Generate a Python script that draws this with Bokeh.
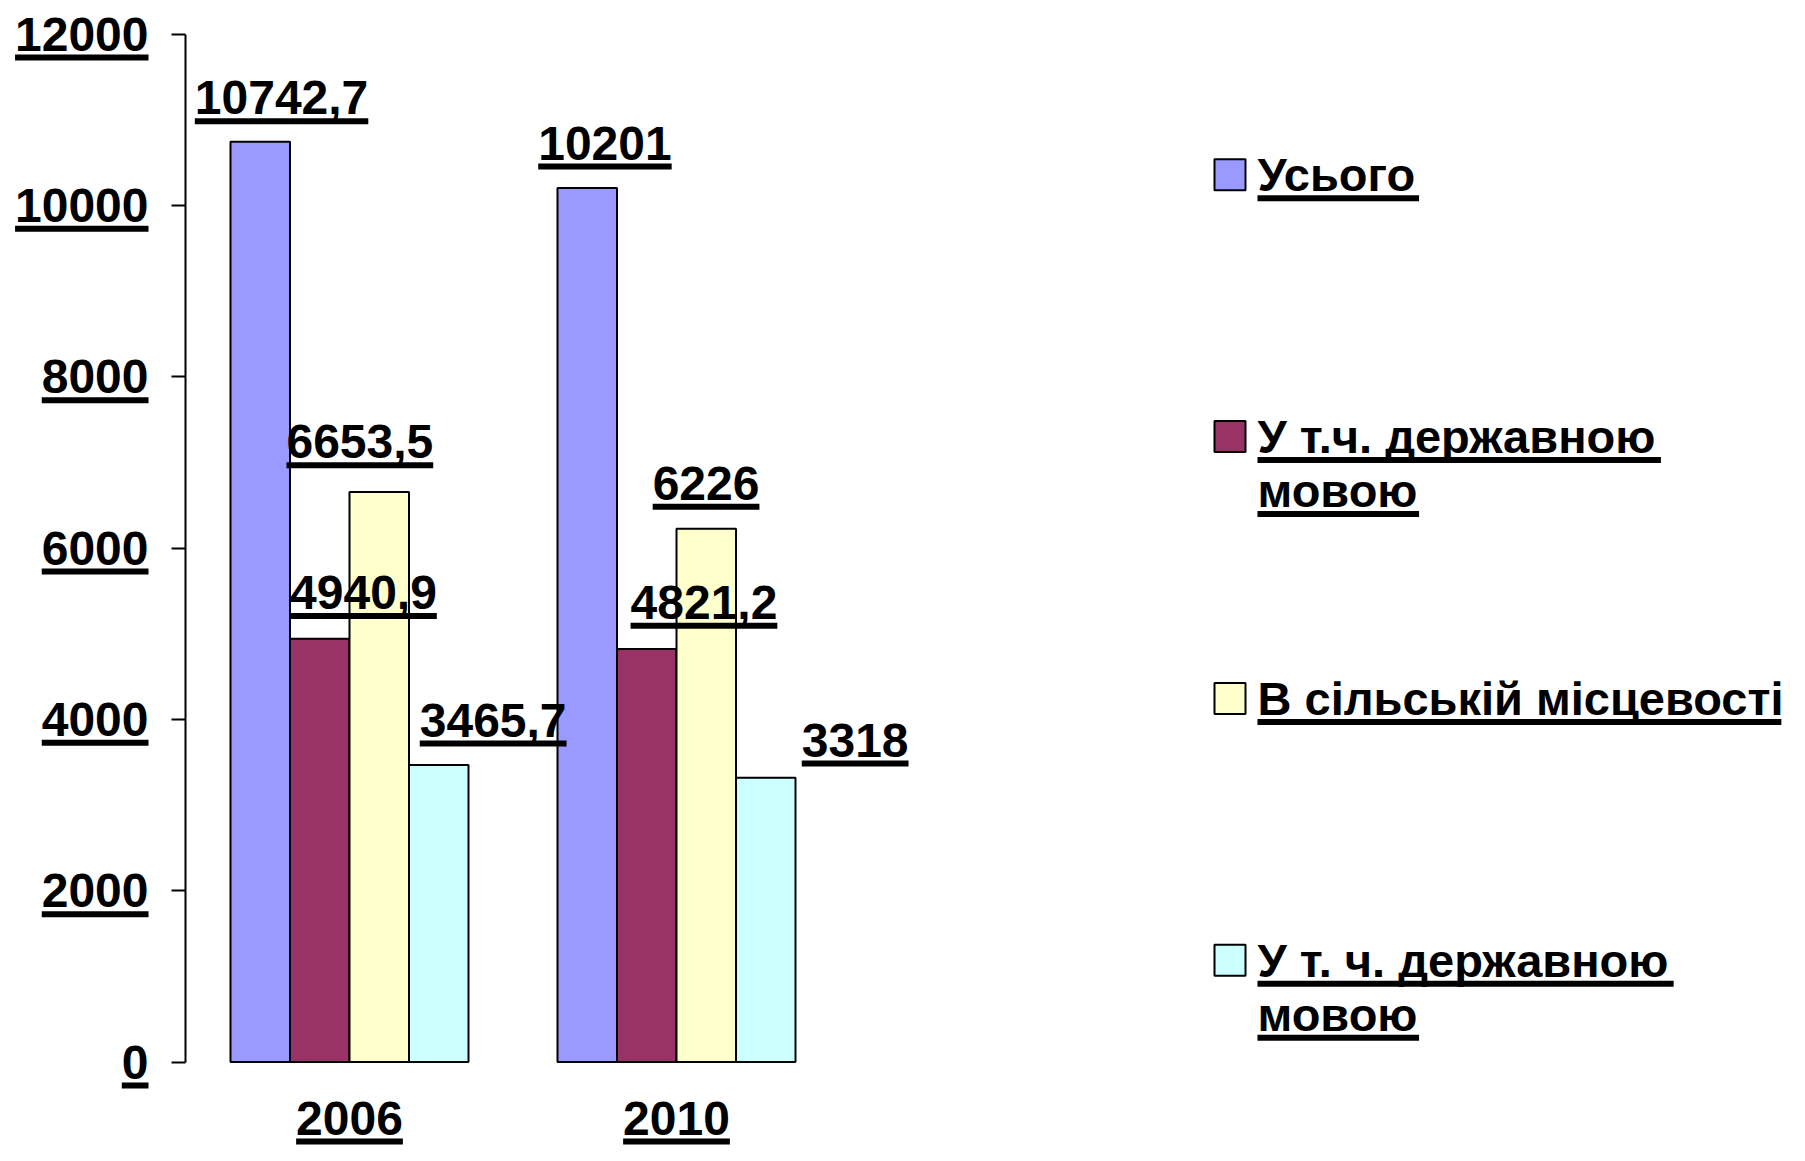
from bokeh.plotting import figure
from bokeh.models import Range1d, LinearAxis, FixedTicker, ColumnDataSource
from bokeh.core.properties import value
from bokeh.embed import file_html
from bokeh.resources import INLINE

# ---------------- data ----------------
years = ["2006", "2010"]
series_names = ["Усього", "У т.ч. державною\nмовою", "В сільській місцевості", "У т. ч. державною\nмовою"]
values_2006 = [10742.7, 4940.9, 6653.5, 3465.7]
values_2010 = [10201, 4821.2, 6226, 3318]
y_ticks = [0, 2000, 4000, 6000, 8000, 10000, 12000]
y_tick_labels = ["0", "2000", "4000", "6000", "8000", "10000", "12000"]
y_max = 12000

# ---------------- styles / layout ----------------
colors = ["#9999FF", "#993366", "#FFFFCC", "#CCFFFF"]
FONT = "Liberation Sans"
FS = 48  # px
W, H = 1789, 1145
X0, XS = 349.0, 327.0           # canvas px of group 0 centre, px per group
Y0 = 1061.5                     # canvas px of value 0
YS = 1028.0 / y_max             # px per unit
BAR_PX = 59.5
AXIS_PX = 185.0
TICK_OUT = 14
STANDOFF = 23
UL_GAP = 23.5                   # underline centre below text centre (px)
UL_T = 6                        # underline thickness

# manual label shifts (px), per year, per series
label_dx = [[21.3, 43.7, -19.4, 54.4], [17.7, 57.2, -0.2, 89.4]]
label_rise = [[44.0, 46.2, 50.2, 45.0], [45.0, 46.8, 45.5, 37.7]]

# legend layout (canvas px)
LEG_FS = 47
LEG_SQ_X, LEG_Y0, LEG_DY, LEG_SQ = 1229.5, 174.3, 261.8, 31
LEG_TX, LINE_H = 1257.0, 54.0
legend_line_widths = [[165], [412, 165], [535], [425, 165]]  # at 48px

XLAB_STANDOFF = 40
XLAB_UL_Y = 1141


def px_x(px):
    return (px - X0) / XS


def px_y(py):
    return (Y0 - py) / YS


def text_w(s):
    return sum(0.556 if c.isdigit() else 0.278 for c in s) * FS


def fmt(v):
    return ("%g" % v).replace(".", ",")


p = figure(width=W, height=H, output_backend="svg", toolbar_location=None,
           x_range=Range1d(px_x(0), px_x(W)), y_range=Range1d(px_y(H), px_y(0)),
           x_axis_location=None, y_axis_location=None, min_border=0,
           outline_line_color=None, background_fill_color="white",
           border_fill_color="white")
p.grid.visible = False

bar_w = BAR_PX / XS
font = value(FONT)

# bars + value labels
rows = dict(x=[], top=[], color=[], label=[], lx=[], ly=[], uly=[], ulw=[])
for gi, vals in enumerate([values_2006, values_2010]):
    for si, v in enumerate(vals):
        x = gi + (si - 1.5) * bar_w
        rows["x"].append(x)
        rows["top"].append(v)
        rows["color"].append(colors[si])
        s = fmt(v)
        rows["label"].append(s)
        rows["lx"].append(x + label_dx[gi][si] / XS)
        rows["ly"].append(v + label_rise[gi][si] / YS)
        rows["uly"].append(v + (label_rise[gi][si] - UL_GAP) / YS)
        rows["ulw"].append(text_w(s))
src = ColumnDataSource(rows)

p.vbar(x="x", top="top", bottom=0, width=bar_w, fill_color="color",
       line_color="black", line_width=2, source=src)
p.text(x="lx", y="ly", text="label", source=src, text_font=font,
       text_font_size=f"{FS}px", text_font_style="bold", text_color="black",
       text_align="center", text_baseline="middle")
p.rect(x="lx", y="uly", width="ulw", height=UL_T, width_units="screen",
       height_units="screen", fill_color="black", line_color=None, source=src)

# y axis
yaxis = LinearAxis(fixed_location=px_x(AXIS_PX), bounds=(0, y_max),
                   ticker=FixedTicker(ticks=y_ticks),
                   major_label_overrides={t: l for t, l in zip(y_ticks, y_tick_labels)})
yaxis.axis_line_width = 2
yaxis.major_tick_line_width = 2
yaxis.major_tick_out = TICK_OUT
yaxis.major_tick_in = 0
yaxis.minor_tick_out = 0
yaxis.minor_tick_in = 0
yaxis.major_label_standoff = STANDOFF
yaxis.major_label_text_font = FONT
yaxis.major_label_text_font_size = f"{FS}px"
yaxis.major_label_text_font_style = "bold"
yaxis.major_label_text_color = "black"
p.add_layout(yaxis, "left")

ul_right = AXIS_PX - TICK_OUT - STANDOFF
p.rect(x=[px_x(ul_right - text_w(l) / 2) for l in y_tick_labels],
       y=[t - UL_GAP / YS for t in y_ticks],
       width=[text_w(l) for l in y_tick_labels], height=UL_T,
       width_units="screen", height_units="screen", fill_color="black", line_color=None)

# x axis (categories)
xaxis = LinearAxis(fixed_location=0, ticker=FixedTicker(ticks=list(range(len(years)))),
                   major_label_overrides={i: y for i, y in enumerate(years)})
xaxis.axis_line_color = None
xaxis.major_tick_line_color = None
xaxis.minor_tick_line_color = None
xaxis.major_tick_out = 0
xaxis.major_tick_in = 0
xaxis.major_label_standoff = XLAB_STANDOFF
xaxis.major_label_text_font = FONT
xaxis.major_label_text_font_size = f"{FS}px"
xaxis.major_label_text_font_style = "bold"
xaxis.major_label_text_color = "black"
p.add_layout(xaxis, "below")

p.rect(x=list(range(len(years))), y=[px_y(XLAB_UL_Y)] * len(years),
       width=[text_w(y) for y in years], height=UL_T, width_units="screen",
       height_units="screen", fill_color="black", line_color=None)

# legend
sq_x, sq_y, sq_c = [], [], []
lt_x, lt_y, lt_t, ul_x, ul_y, ul_w = [], [], [], [], [], []
for i, name in enumerate(series_names):
    cy = LEG_Y0 + i * LEG_DY
    sq_x.append(px_x(LEG_SQ_X))
    sq_y.append(px_y(cy))
    sq_c.append(colors[i])
    for k, line in enumerate(name.split("\n")):
        ty = cy + k * LINE_H
        lt_x.append(px_x(LEG_TX))
        lt_y.append(px_y(ty))
        lt_t.append(line)
        w = legend_line_widths[i][k] * LEG_FS / 48.0
        ul_x.append(px_x(LEG_TX + w / 2))
        ul_y.append(px_y(ty + UL_GAP))
        ul_w.append(w)

p.rect(x=sq_x, y=sq_y, width=LEG_SQ, height=LEG_SQ, width_units="screen",
       height_units="screen", fill_color=sq_c, line_color="black", line_width=2)
p.text(x=lt_x, y=lt_y, text=lt_t, text_font=font, text_font_size=f"{LEG_FS}px",
       text_font_style="bold", text_color="black", text_align="left",
       text_baseline="middle")
p.rect(x=ul_x, y=ul_y, width=ul_w, height=UL_T, width_units="screen",
       height_units="screen", fill_color="black", line_color=None)

open("out.html", "w").write(file_html(p, INLINE))
